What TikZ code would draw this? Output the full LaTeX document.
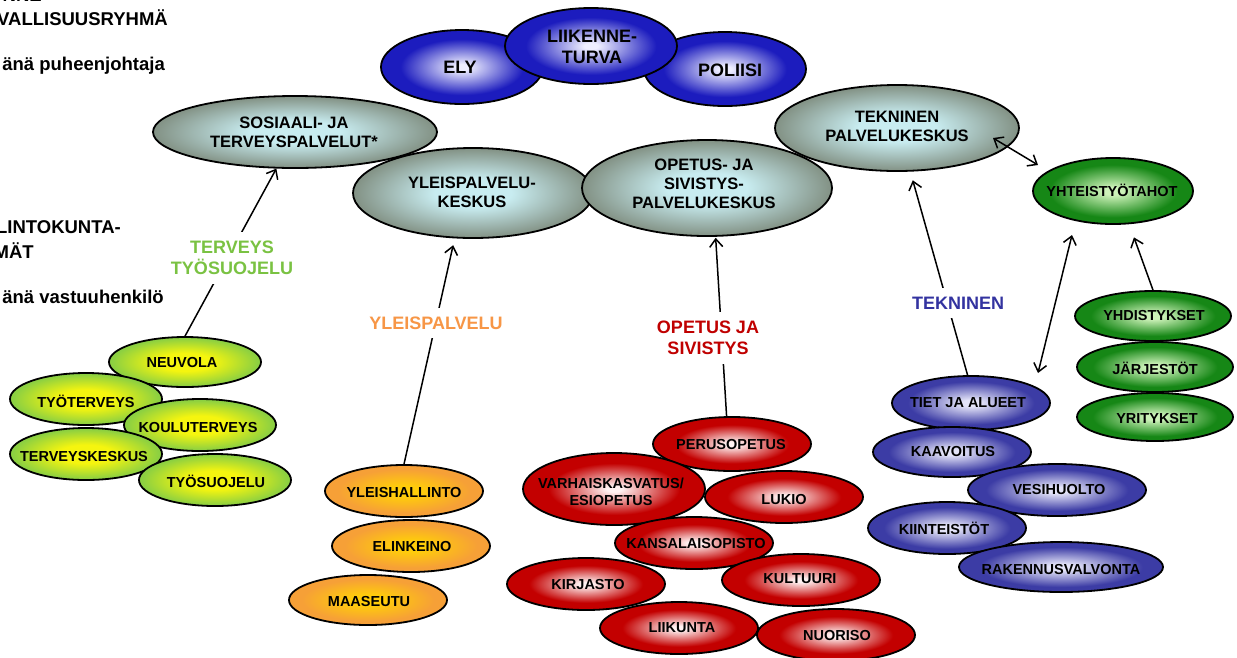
\documentclass[tikz,border=0pt]{standalone}
\usepackage{fontspec}
\setmainfont{Liberation Sans}
\usetikzlibrary{shapes.geometric,arrows.meta}
\definecolor{gIn}{RGB}{200,236,240}
\definecolor{gOut}{RGB}{130,145,132}
\definecolor{bIn}{RGB}{238,238,255}
\definecolor{bOut}{RGB}{28,28,190}
\definecolor{sIn}{RGB}{228,228,248}
\definecolor{sOut}{RGB}{60,60,165}
\definecolor{nIn}{RGB}{205,242,185}
\definecolor{nOut}{RGB}{22,135,22}
\definecolor{yIn}{RGB}{245,245,15}
\definecolor{yOut}{RGB}{140,208,65}
\definecolor{oIn}{RGB}{255,205,10}
\definecolor{oOut}{RGB}{246,160,55}
\definecolor{rIn}{RGB}{255,242,242}
\definecolor{rOut}{RGB}{195,0,0}
\definecolor{lGreen}{RGB}{122,194,66}
\definecolor{lOrange}{RGB}{247,150,70}
\definecolor{lRed}{RGB}{192,0,0}
\definecolor{lBlue}{RGB}{51,51,160}
\pgfdeclareradialshading{shGray}{\pgfpoint{0bp}{0bp}}{color(0bp)=(gIn); color(8bp)=(gIn); color(25bp)=(gOut); color(50bp)=(gOut)}
\pgfdeclareradialshading{shTop}{\pgfpoint{0bp}{0bp}}{color(0bp)=(bIn); color(2bp)=(bIn); color(19bp)=(bOut); color(50bp)=(bOut)}
\pgfdeclareradialshading{shSlate}{\pgfpoint{0bp}{0bp}}{color(0bp)=(sIn); color(3bp)=(sIn); color(20bp)=(sOut); color(50bp)=(sOut)}
\pgfdeclareradialshading{shGreen}{\pgfpoint{0bp}{0bp}}{color(0bp)=(nIn); color(3bp)=(nIn); color(20bp)=(nOut); color(50bp)=(nOut)}
\pgfdeclareradialshading{shYG}{\pgfpoint{0bp}{0bp}}{color(0bp)=(yIn); color(9bp)=(yIn); color(24bp)=(yOut); color(50bp)=(yOut)}
\pgfdeclareradialshading{shOrange}{\pgfpoint{0bp}{0bp}}{color(0bp)=(oIn); color(5bp)=(oIn); color(21bp)=(oOut); color(50bp)=(oOut)}
\pgfdeclareradialshading{shRed}{\pgfpoint{0bp}{0bp}}{color(0bp)=(rIn); color(2bp)=(rIn); color(18bp)=(rOut); color(50bp)=(rOut)}
\begin{document}
\begin{tikzpicture}[x=1pt,y=-1pt,
  blob/.style={ellipse, draw=black, line width=1.8pt, inner sep=0pt},
  sGray/.style={blob, shading=shGray},
  sTop/.style={blob, shading=shTop},
  sSlate/.style={blob, shading=shSlate},
  sGreen/.style={blob, shading=shGreen},
  sYG/.style={blob, shading=shYG},
  sOrange/.style={blob, shading=shOrange},
  sRed/.style={blob, shading=shRed},
  txt/.style={font=\bfseries\fontsize{14.5}{17}\selectfont, align=center, inner sep=0pt},
  bigtxt/.style={font=\bfseries\fontsize{16.5}{19}\selectfont, align=center, inner sep=0pt},
  toptxt/.style={font=\bfseries\fontsize{18}{21}\selectfont, align=center, inner sep=0pt},
  lbl/.style={font=\bfseries\fontsize{18}{21.5}\selectfont, align=center, fill=white, inner xsep=3pt, inner ysep=9pt},
  side/.style={font=\bfseries\fontsize{18.5}{21}\selectfont, anchor=base east, inner sep=0pt},
  conn/.style={line width=1.5pt, black},
  >={Straight Barb[length=8pt,width=13pt]}
]
\clip (0,0) rectangle (1237,657);
\fill[white] (0,0) rectangle (1237,657);

% left cut-off texts
\node[side] (s0) at (42,1.5) {NNE};
\node[side] (s1) at (168,25) {VALLISUUSRYHMÄ};
\node[side] (s2) at (165,70) {änä puheenjohtaja};
\node[side] (s3) at (121,233) {LINTOKUNTA-};
\node[side] (s4) at (34,258) {MÄT};
\node[side] (s5) at (164,303) {änä vastuuhenkilö};

% top blue
\node[sTop, minimum width=162pt, minimum height=74pt] (ely) at (462,67) {};
\node[toptxt] (elyT) at (460,67) {ELY};
\node[sTop, minimum width=162pt, minimum height=74pt] (pol) at (725,69) {};
\node[toptxt] (polT) at (730,70) {POLIISI};
\node[sTop, minimum width=172pt, minimum height=76pt] (lii) at (591,46) {};
\node[toptxt] (liiT) at (592,47) {LIIKENNE-\\TURVA};

% gray centres
\node[sGray, minimum width=244pt, minimum height=86pt] (tek) at (897,128) {};
\node[bigtxt] (tekT) at (897,126) {TEKNINEN\\PALVELUKESKUS};
\node[sGray, minimum width=240pt, minimum height=90pt] (yk) at (473,193) {};
\node[bigtxt] (ykT) at (472,192) {YLEISPALVELU-\\KESKUS};
\node[sGray, minimum width=250pt, minimum height=96pt] (ops) at (707,188) {};
\node[bigtxt] (opsT) at (704,184) {OPETUS- JA\\SIVISTYS-\\PALVELUKESKUS};
\node[sGray, minimum width=284pt, minimum height=72pt] (sos) at (295,132) {};
\node[bigtxt] (sosT) at (294,132) {SOSIAALI- JA\\TERVEYSPALVELUT*};

% green partners
\node[sGreen, minimum width=160pt, minimum height=66pt] (yht) at (1113,191) {};
\node[txt] (yhtT) at (1112,190) {YHTEISTYÖTAHOT};
\node[sGreen, minimum width=156pt, minimum height=50pt] (yhd) at (1153,316) {};
\node[txt] (yhdT) at (1154,316) {YHDISTYKSET};
\node[sGreen, minimum width=156pt, minimum height=50pt] (jar) at (1155,367) {};
\node[txt] (jarT) at (1155,368) {JÄRJESTÖT};
\node[sGreen, minimum width=156pt, minimum height=48pt] (yri) at (1155,417) {};
\node[txt] (yriT) at (1157,418) {YRITYKSET};

% health
\node[sYG, minimum width=152pt, minimum height=50pt] (neu) at (185,362) {};
\node[txt] (neuT) at (182,362) {NEUVOLA};
\node[sYG, minimum width=152pt, minimum height=52pt] (tyt) at (86,399) {};
\node[txt] (tytT) at (86,401) {TYÖTERVEYS};
\node[sYG, minimum width=152pt, minimum height=52pt] (kou) at (200,425) {};
\node[txt] (kouT) at (198,427) {KOULUTERVEYS};
\node[sYG, minimum width=152pt, minimum height=52pt] (ter) at (86,454) {};
\node[txt] (terT) at (84,456) {TERVEYSKESKUS};
\node[sYG, minimum width=152pt, minimum height=52pt] (tys) at (215,480) {};
\node[txt] (tysT) at (216,481) {TYÖSUOJELU};

% general services
\node[sOrange, minimum width=158pt, minimum height=52pt] (yh) at (404,491) {};
\node[txt] (yhT) at (404,492) {YLEISHALLINTO};
\node[sOrange, minimum width=158pt, minimum height=52pt] (eli) at (411,546) {};
\node[txt] (eliT) at (412,546) {ELINKEINO};
\node[sOrange, minimum width=158pt, minimum height=50pt] (maa) at (368,600) {};
\node[txt] (maaT) at (369,601) {MAASEUTU};

% education
\node[sRed, minimum width=158pt, minimum height=54pt] (per) at (732,444) {};
\node[txt] (perT) at (731,444) {PERUSOPETUS};
\node[sRed, minimum width=158pt, minimum height=52pt] (luk) at (784,497) {};
\node[txt] (lukT) at (784,499) {LUKIO};
\node[sRed, minimum width=182pt, minimum height=72pt] (var) at (614,489) {};
\node[txt] (varT) at (611,492) {VARHAISKASVATUS/\\ESIOPETUS};
\node[sRed, minimum width=158pt, minimum height=52pt] (kan) at (694,543) {};
\node[txt] (kanT) at (696,543) {KANSALAISOPISTO};
\node[sRed, minimum width=158pt, minimum height=52pt] (kir) at (586,584) {};
\node[txt] (kirT) at (588,584) {KIRJASTO};
\node[sRed, minimum width=158pt, minimum height=52pt] (kul) at (801,580) {};
\node[txt] (kulT) at (800,579) {KULTUURI};
\node[sRed, minimum width=158pt, minimum height=52pt] (lik) at (679,628) {};
\node[txt] (likT) at (682,628) {LIIKUNTA};
\node[sRed, minimum width=158pt, minimum height=52pt] (nuo) at (836,635) {};
\node[txt] (nuoT) at (837,635) {NUORISO};

% technical
\node[sSlate, minimum width=158pt, minimum height=54pt] (tie) at (971,403) {};
\node[txt] (tieT) at (968,403) {TIET JA ALUEET};
\node[sSlate, minimum width=158pt, minimum height=50pt] (kaa) at (952,452) {};
\node[txt] (kaaT) at (953,451) {KAAVOITUS};
\node[sSlate, minimum width=178pt, minimum height=52pt] (ves) at (1057,490) {};
\node[txt] (vesT) at (1059,489) {VESIHUOLTO};
\node[sSlate, minimum width=158pt, minimum height=52pt] (kii) at (947,528) {};
\node[txt] (kiiT) at (944,528) {KIINTEISTÖT};
\node[sSlate, minimum width=204pt, minimum height=50pt] (rak) at (1061,567) {};
\node[txt] (rakT) at (1061,569) {RAKENNUSVALVONTA};

% connectors
\draw[conn, ->] (neu.north) -- (sos.243);
\draw[conn, ->, shorten >=7pt] (yh.north) -- (yk.248);
\draw[conn, ->, shorten >=1pt] (per.101) -- (ops.280);
\draw[conn, ->, shorten >=9pt] (tie.97) -- (tek.287);
\draw[conn, ->, shorten >=14pt] (yhd.north) -- (yht.296);
\coordinate (tyA) at (993,138);
\coordinate (tyB) at (1038,165);
\draw[conn, <->] (tyA) -- (tyB);
\coordinate (ytA) at (1072,235);
\coordinate (ytB) at (1038,373);
\draw[conn, <->] (ytA) -- (ytB);

% labels over connectors
\node[lbl, text=lGreen] (lT) at (232,258) {TERVEYS\\TYÖSUOJELU};
\node[lbl, text=lOrange] (lY) at (436,323) {YLEISPALVELU};
\node[lbl, text=lRed] (lO) at (708,338) {OPETUS JA\\SIVISTYS};
\node[lbl, text=lBlue] (lK) at (958,303) {TEKNINEN};
\end{tikzpicture}
\end{document}
